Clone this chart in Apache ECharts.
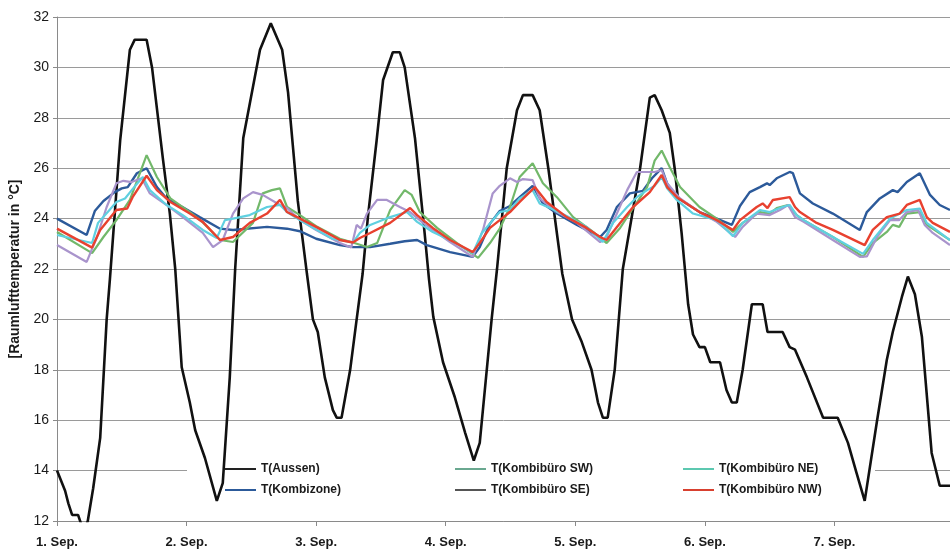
<!DOCTYPE html>
<html>
<head>
<meta charset="utf-8">
<script src="https://cdn.jsdelivr.net/npm/echarts@6/dist/echarts.min.js"></script>
<style>
html,body{margin:0;padding:0;background:#fff;}
#c{width:950px;height:551px;}
</style>
</head>
<body>
<div id="c"></div>
<script>
// x = hours since 1. Sep 00:00, y = temperature in °C
var dayLabels = ['1. Sep.', '2. Sep.', '3. Sep.', '4. Sep.', '5. Sep.', '6. Sep.', '7. Sep.'];
var yTicks = [12, 14, 16, 18, 20, 22, 24, 26, 28, 30, 32];

var aussen = [[0,14.0],[1.5,13.2],[2.1,12.7],[2.8,12.24],[3.9,12.24],[4.6,11.8],[5.2,11.7],[5.7,12.0],[6.7,13.3],[8,15.3],[9.2,20.0],[9.8,21.6],[11.7,27.1],[13.5,30.7],[14.4,31.1],[16.6,31.1],[17.6,30.0],[19.6,26.4],[20.9,24.2],[21.9,22.0],[23.1,18.1],[24.6,16.7],[25.6,15.6],[27.4,14.5],[29.6,12.8],[30.7,13.5],[32,17.7],[33,22.0],[34.5,27.2],[37.6,30.7],[39.6,31.75],[41.7,30.7],[42.8,29.0],[44.6,24.7],[46.3,21.8],[47.4,20.0],[48.3,19.5],[49.6,17.7],[51.1,16.4],[51.8,16.1],[52.7,16.1],[54.3,18.0],[55.5,20.0],[56.6,21.8],[57.6,24.1],[59.2,27.1],[60.4,29.5],[62.2,30.6],[63.5,30.6],[64.4,30.0],[66.3,27.2],[68.1,23.4],[68.9,21.6],[69.7,20.1],[71.5,18.3],[73.7,16.9],[75.6,15.5],[77.2,14.4],[78.3,15.1],[79.6,18.0],[80.5,20.0],[81.5,22.0],[83.3,26.0],[85.2,28.3],[86.3,28.9],[88.1,28.9],[89.4,28.3],[91,26.0],[92.6,23.4],[93.6,21.8],[95.4,20.0],[97.2,19.1],[99,18.0],[100.2,16.7],[101.1,16.1],[102,16.1],[103.3,18.0],[104.8,22.0],[108,26.0],[109.8,28.8],[110.7,28.9],[112,28.3],[113.5,27.4],[114.4,26.0],[115.7,23.4],[116.3,22.0],[116.9,20.6],[117.8,19.4],[119,18.9],[120,18.9],[121,18.3],[122.8,18.3],[124,17.2],[125,16.7],[125.9,16.7],[127,18.0],[128.7,20.6],[130.7,20.6],[131.6,19.5],[134.4,19.5],[135.7,18.9],[136.7,18.8],[138.9,17.7],[141.9,16.1],[144.6,16.1],[146.5,15.1],[148.1,13.9],[149.6,12.8],[151.9,16.0],[153.7,18.4],[154.8,19.5],[156.5,20.9],[157.6,21.7],[158.9,21.0],[160.2,19.3],[162,14.7],[163.5,13.4],[165.4,13.4]];

var kombizone = [[0,24.0],[5.5,23.35],[7,24.3],[8.6,24.7],[10.7,25.05],[12,25.2],[13.1,25.25],[14.8,25.8],[16.6,26.0],[18.5,25.25],[20.3,24.8],[23.3,24.45],[26.5,24.05],[30.2,23.6],[32.6,23.55],[38.9,23.67],[42.6,23.6],[45,23.5],[48,23.2],[52.4,22.95],[54.8,22.87],[58,22.87],[61.7,23.0],[64.4,23.1],[66.7,23.15],[68.5,22.95],[72.8,22.67],[77,22.48],[78.3,22.87],[80.2,23.8],[82,24.3],[83.9,24.5],[85.7,24.85],[88.1,25.3],[90,24.6],[92.6,24.2],[96.3,23.75],[100.6,23.27],[101.8,23.55],[103.7,24.46],[106.1,25.0],[108.5,25.1],[110.2,25.6],[112,26.0],[113,25.4],[114.8,24.85],[119,24.26],[122.2,24.0],[125,23.75],[126.5,24.5],[128.3,25.05],[130.2,25.25],[131.5,25.4],[132,25.33],[133.3,25.6],[135.7,25.85],[136.3,25.8],[137.6,25.0],[140,24.6],[143.7,24.2],[148.7,23.55],[150,24.26],[152.4,24.8],[154.8,25.13],[155.7,25.05],[157.4,25.45],[159.8,25.8],[161.7,24.94],[163.5,24.54],[165.4,24.34]];

var sw = [[0,23.47],[6.5,22.63],[8.6,23.27],[11,23.94],[13.5,24.74],[16.6,26.52],[18.5,25.65],[21,24.8],[24.6,24.26],[27,23.85],[30.2,23.15],[32.6,23.07],[36.3,23.83],[38.1,25.0],[39.8,25.13],[41.3,25.2],[42.6,24.46],[45,24.14],[48,23.7],[52.4,23.2],[54.8,23.05],[57.4,22.87],[59.3,23.03],[61.7,24.34],[64.4,25.13],[65.7,24.94],[67.2,24.26],[70.4,23.63],[74.1,23.03],[78,22.44],[80.2,23.03],[82,23.6],[83.9,24.46],[85.7,25.65],[88.1,26.2],[90,25.4],[92.6,24.85],[95.6,24.06],[99.3,23.47],[101.8,23.03],[104.3,23.63],[106.7,24.42],[109.3,25.25],[110.7,26.3],[112,26.7],[113.5,26.04],[115.4,25.25],[119,24.46],[122.2,24.0],[125.2,23.47],[127,23.83],[130.2,24.26],[132,24.2],[133.3,24.42],[135.4,24.54],[137,24.14],[138.3,23.94],[143.7,23.27],[149.3,22.48],[151.1,23.03],[153.7,23.47],[154.8,23.75],[156,23.67],[157.4,24.2],[159.8,24.26],[161.1,23.75],[165.4,23.15]];

var se = [[0,22.95],[5.5,22.28],[7.4,23.27],[9.2,24.46],[11,25.4],[12.3,25.5],[13.8,25.45],[15.7,25.6],[17.2,25.0],[20.3,24.54],[23.3,24.06],[27,23.43],[28.9,22.87],[30.7,23.15],[32.6,24.2],[34.5,24.8],[36.3,25.05],[38.1,24.94],[41.3,24.54],[42.6,24.42],[45,23.94],[48,23.55],[52.4,23.03],[54.5,22.85],[55.5,23.75],[56.3,23.6],[57.4,24.2],[59.3,24.74],[61.1,24.74],[63.5,24.46],[65.4,24.26],[67.8,23.83],[72.8,23.07],[77,22.48],[78.9,23.55],[80.7,25.0],[82,25.3],[83.9,25.6],[85.2,25.45],[86.3,25.57],[88.1,25.53],[89.4,24.8],[92.6,24.26],[96.3,23.83],[100.6,23.07],[101.8,23.27],[103.7,24.2],[105.6,25.13],[107.4,25.85],[110.7,25.85],[112,25.93],[113,25.4],[115.4,24.8],[119,24.26],[122.2,23.87],[125.6,23.27],[127,23.67],[129.6,24.2],[132,24.14],[133.9,24.34],[135.4,24.54],[136.7,24.06],[138.3,23.87],[143.7,23.15],[148.7,22.48],[150,22.5],[151.9,23.27],[154.3,23.94],[156,23.94],[157.4,24.26],[159.5,24.34],[160.7,23.75],[162.2,23.43],[165.4,22.95]];

var ne = [[0,23.35],[6.5,23.03],[7.6,23.83],[9.4,24.26],[11,24.66],[12.6,24.8],[14.1,25.2],[15.9,25.65],[17.2,25.13],[20.3,24.54],[23.3,24.14],[27,23.55],[29.6,23.23],[31.1,23.94],[32.6,24.0],[35.7,24.14],[38.9,24.46],[41.3,24.54],[42.6,24.26],[45,23.94],[51,23.2],[54.8,23.05],[56.1,23.43],[58,23.75],[61.7,24.06],[64.8,24.26],[66.7,23.87],[69.6,23.47],[72.8,23.15],[77,22.63],[78.7,23.43],[80.7,23.94],[82,24.26],[83.9,24.34],[85.7,24.8],[88.1,25.13],[89.4,24.6],[91.3,24.42],[94.4,24.1],[98.1,23.67],[101.1,23.07],[103,23.83],[105.6,24.46],[107.4,24.85],[109.3,25.13],[110.7,25.3],[112,25.65],[113,25.2],[114.8,24.74],[117.8,24.2],[122.2,23.94],[125.2,23.3],[127,23.83],[130.2,24.34],[132,24.26],[134.4,24.46],[135.7,24.54],[137,24.14],[138.3,23.94],[143.7,23.27],[149.3,22.6],[151.1,23.15],[154.3,24.0],[157.4,24.34],[159.8,24.4],[161.1,23.83],[165.4,23.15]];

var nw = [[0,23.6],[6.5,22.85],[8,23.55],[11,24.34],[13,24.4],[14,24.85],[16.6,25.7],[18.5,25.13],[21,24.66],[24.6,24.2],[27,23.87],[30.2,23.15],[32.6,23.27],[35.7,23.83],[38.9,24.2],[41.3,24.74],[42.6,24.26],[45,24.0],[48,23.67],[52.4,23.15],[54.8,23.05],[56.1,23.23],[58,23.43],[61.7,23.83],[65.4,24.42],[66.7,24.14],[69.6,23.63],[72.8,23.15],[77,22.67],[78.3,23.03],[80.2,23.63],[82,23.94],[83.9,24.26],[85.7,24.66],[88.5,25.25],[90.7,24.66],[94.4,24.06],[98.1,23.63],[100.6,23.27],[101.8,23.15],[104.3,23.83],[106.7,24.46],[109.8,25.05],[112,25.73],[113,25.25],[114.8,24.85],[119,24.26],[122.2,23.94],[125.2,23.55],[126.5,23.94],[129.6,24.46],[130.7,24.6],[131.6,24.42],[132.6,24.74],[135.7,24.85],[136.7,24.46],[137.6,24.26],[140.7,23.83],[143.7,23.55],[149.6,22.95],[151.1,23.55],[153.7,24.06],[156.1,24.2],[157.4,24.54],[159.8,24.74],[161.1,24.06],[162.2,23.83],[165.4,23.47]];

var seriesNames = ['T(Aussen)', 'T(Kombizone)', 'T(Kombibüro SW)', 'T(Kombibüro SE)', 'T(Kombibüro NE)', 'T(Kombibüro NW)'];
var seriesData = [aussen, kombizone, sw, se, ne, nw];
var seriesColors = ['#111111', '#2c5a9a', '#72b86a', '#a994cc', '#5fd0e0', '#e8412f'];
var legendIconColors = ['#222222', '#2c5a9a', '#6aa890', '#555555', '#5cc8b0', '#d8402f'];
var seriesWidths = [2.6, 2.4, 2.2, 2.2, 2.2, 2.4];

var chart = echarts.init(document.getElementById('c'), null, {renderer: 'canvas'});
var FONT = 'Liberation Sans, Arial, sans-serif';

var series = seriesNames.map(function (n, i) {
  return {
    name: n, type: 'line', data: seriesData[i], showSymbol: false, symbol: 'none',
    z: 3, clip: true, animation: false,
    lineStyle: {color: seriesColors[i], width: seriesWidths[i]},
    itemStyle: {color: seriesColors[i]}
  };
});

function legendFor(idx, left) {
  return {
    orient: 'vertical', left: left, top: 463, itemGap: 9, itemWidth: 31, itemHeight: 2,
    icon: 'rect', padding: 0, selectedMode: false,
    textStyle: {fontFamily: FONT, fontSize: 12, fontWeight: 'bold', color: '#1a1a1a'},
    data: idx.map(function (i) {
      return {name: seriesNames[i], itemStyle: {color: legendIconColors[i]}};
    })
  };
}

chart.setOption({
  backgroundColor: '#ffffff',
  animation: false,
  grid: {left: 57, right: 0, top: 17, bottom: 30, containLabel: false},
  graphic: [{
    type: 'rect', z: 1, silent: true,
    shape: {x: 187, y: 445, width: 688, height: 70},
    style: {fill: '#ffffff'}
  }],
  legend: [legendFor([0, 1], 225), legendFor([2, 3], 455), legendFor([4, 5], 683)],
  xAxis: {
    type: 'value', min: 0, max: 165.4, interval: 24,
    axisLine: {show: true, lineStyle: {color: '#8a8a8a', width: 1}},
    axisTick: {show: true, length: 5, lineStyle: {color: '#8a8a8a'}},
    splitLine: {show: false},
    axisLabel: {
      show: true, margin: 15, showMaxLabel: false,
      fontFamily: FONT, fontSize: 13, color: '#1a1a1a', fontWeight: 'bold',
      formatter: function (v) { var k = Math.round(v / 24); return dayLabels[k] || ''; }
    }
  },
  yAxis: {
    type: 'value', min: yTicks[0], max: yTicks[yTicks.length - 1], interval: 2,
    name: '[Raumlufttemperatur in °C]', nameLocation: 'middle', nameGap: 30, nameRotate: 90,
    nameTextStyle: {fontFamily: FONT, fontSize: 14, color: '#1a1a1a', fontWeight: 'bold'},
    axisLine: {show: true, lineStyle: {color: '#8a8a8a', width: 1}},
    axisTick: {show: true, length: 4, lineStyle: {color: '#8a8a8a'}},
    splitLine: {show: true, lineStyle: {color: '#9a9a9a', width: 1}},
    axisLabel: {
      margin: 8, fontFamily: FONT, fontSize: 14, color: '#1a1a1a',
      formatter: function (v) { return yTicks.indexOf(v) >= 0 ? String(v) : ''; }
    }
  },
  series: series
});
</script>
</body>
</html>
